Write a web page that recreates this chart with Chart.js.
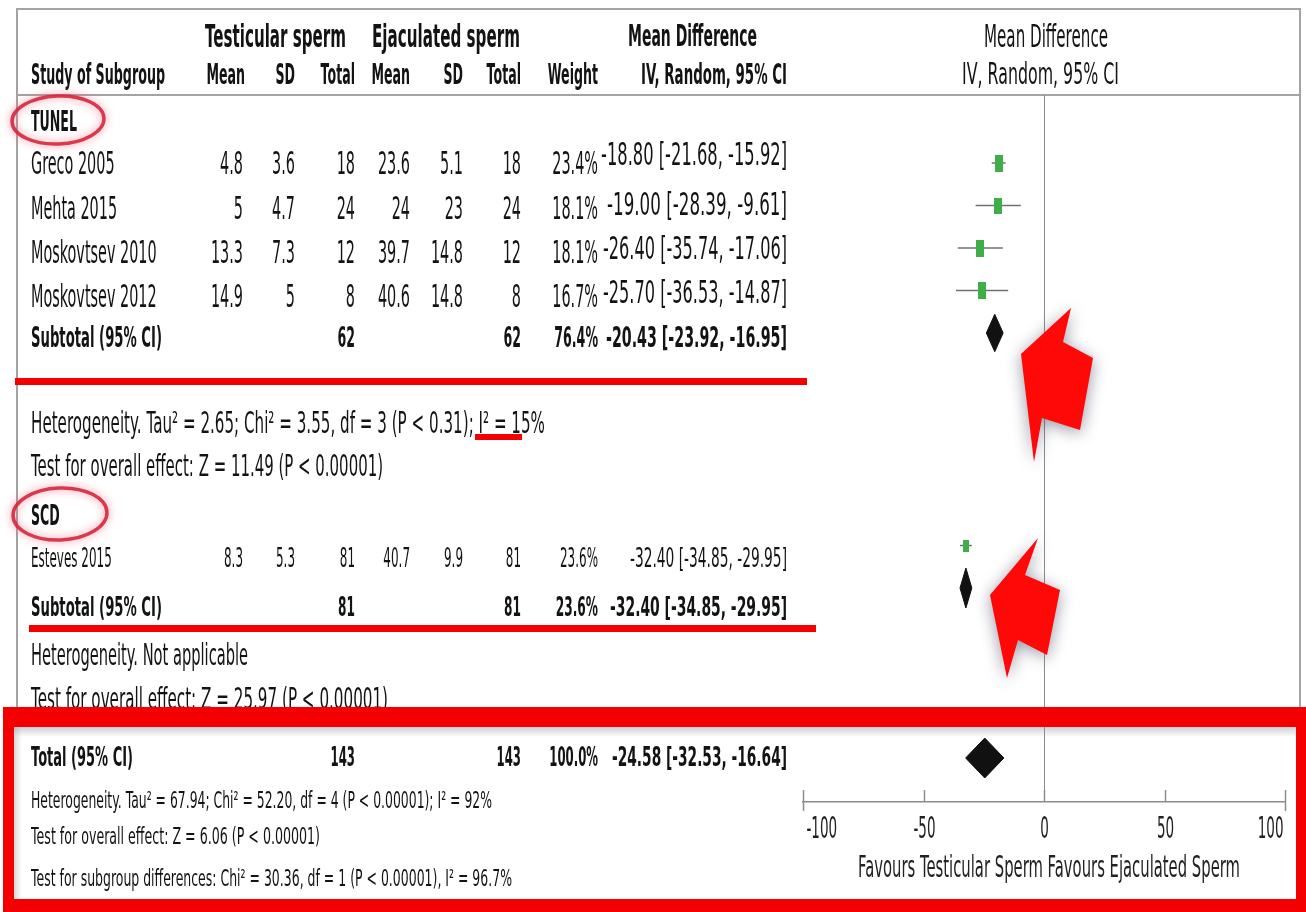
<!DOCTYPE html>
<html>
<head>
<meta charset="utf-8">
<title>Testicular vs ejaculated sperm – DNA fragmentation forest plot</title>
<script src="https://cdn.jsdelivr.net/npm/chart.js@4.4.1/dist/chart.umd.min.js"></script>
<style>
  html, body { margin: 0; padding: 0; background: #fff; }
  canvas { display: block; }
</style>
</head>
<body>
<canvas id="forest" width="1306" height="912"></canvas>
<script>
// ---------- study-level data ----------
const subgroupNames = ['TUNEL', 'SCD'];
const studyNames = ['Greco 2005', 'Mehta 2015', 'Moskovtsev 2010', 'Moskovtsev 2012', 'Esteves 2015'];
const testisMean = [4.8, 5, 13.3, 14.9, 8.3];
const testisSD = [3.6, 4.7, 7.3, 5, 5.3];
const testisTotal = [18, 24, 12, 8, 81];
const ejacMean = [23.6, 24, 39.7, 40.6, 40.7];
const ejacSD = [5.1, 23, 14.8, 14.8, 9.9];
const ejacTotal = [18, 24, 12, 8, 81];
const studyWeight = [23.4, 18.1, 18.1, 16.7, 23.6];
const studyMD = [-18.80, -19.00, -26.40, -25.70, -32.40];
const studyLow = [-21.68, -28.39, -35.74, -36.53, -34.85];
const studyHigh = [-15.92, -9.61, -17.06, -14.87, -29.95];

// ---------- pooled estimates: TUNEL subtotal, SCD subtotal, overall ----------
const pooledLabels = ['Subtotal (95% CI)', 'Subtotal (95% CI)', 'Total (95% CI)'];
const pooledTestisTotal = [62, 81, 143];
const pooledEjacTotal = [62, 81, 143];
const pooledWeight = [76.4, 23.6, 100.0];
const pooledMD = [-20.43, -32.40, -24.58];
const pooledLow = [-23.92, -34.85, -32.53];
const pooledHigh = [-16.95, -29.95, -16.64];

// ---------- statistics lines ----------
const subgroupHeterogeneity = [
  'Heterogeneity. Tau\u00B2 = 2.65; Chi\u00B2 = 3.55, df = 3 (P < 0.31); I\u00B2 = 15%',
  'Heterogeneity. Not applicable'
];
const subgroupEffect = [
  'Test for overall effect: Z = 11.49 (P < 0.00001)',
  'Test for overall effect: Z = 25.97 (P < 0.00001)'
];
const overallNotes = [
  'Heterogeneity. Tau\u00B2 = 67.94; Chi\u00B2 = 52.20, df = 4 (P < 0.00001); I\u00B2 = 92%',
  'Test for overall effect: Z = 6.06 (P < 0.00001)',
  'Test for subgroup differences: Chi\u00B2 = 30.36, df = 1 (P < 0.00001), I\u00B2 = 96.7%'
];

// ---------- axis ----------
const axisTicks = [-100, -50, 0, 50, 100];
const axisTitle = 'Favours Testicular Sperm Favours Ejaculated Sperm';

// ---------- layout ----------
const studyRow = [0, 1, 2, 3, 9];   // plot rows of the individual studies
const pooledRow = [4, 10, 14];      // plot rows of the pooled diamonds
const diamondHalf = [0.44, 0.47, 0.47];
const squareSize = [[8, 17], [8, 16], [8, 17], [8, 17], [6, 12]];
const FONT = '"DejaVu Sans", Verdana, sans-serif';
const SX = 0.45;                    // horizontal squeeze of the narrow table type
const INK = '#131313';

function squareImage(w, h) {
  const c = document.createElement('canvas');
  c.width = w; c.height = h;
  const g = c.getContext('2d');
  g.fillStyle = '#3fae49';
  g.fillRect(0, 0, w, h);
  return c;
}
const squareImgs = squareSize.map(s => squareImage(s[0], s[1]));

// text helper: y is the cap-height centre; o.w forces a width, else SX squeeze
function text(ctx, str, x, y, o) {
  ctx.save();
  ctx.font = (o.bold ? 'bold ' : '') + o.size + 'px ' + FONT;
  const nat = ctx.measureText(str).width;
  const sx = o.w ? o.w / nat : (o.sx || SX);
  const w = nat * sx;
  let left = x;
  if (o.align === 'right') left = x - w;
  else if (o.align === 'center') left = x - w / 2;
  ctx.translate(left, y + 0.36 * o.size);
  ctx.scale(sx, 1);
  ctx.fillStyle = o.color || INK;
  ctx.textBaseline = 'alphabetic';
  ctx.fillText(str, 0, 0);
  ctx.restore();
}

const COL = { tMean: 243, tSD: 295, tN: 355, eMean: 410, eSD: 463, eN: 521, wt: 598, ci: 787 };
const LEFT = 31;

function ciString(m, lo, hi) {
  return m.toFixed(2) + ' [' + lo.toFixed(2) + ', ' + hi.toFixed(2) + ']';
}

// ---------- table drawn beneath the plot ----------
const tablePlugin = {
  id: 'forestTable',
  beforeDraw(chart) {
    const ctx = chart.ctx;
    ctx.save();
    ctx.fillStyle = '#fff';
    ctx.fillRect(0, 0, chart.width, chart.height);

    // frame and header rule
    ctx.strokeStyle = '#a3a3a3';
    ctx.lineWidth = 2;
    ctx.beginPath();
    ctx.moveTo(17, 712); ctx.lineTo(17, 9); ctx.lineTo(1300, 9); ctx.lineTo(1300, 712);
    ctx.stroke();
    ctx.beginPath();
    ctx.moveTo(17, 95); ctx.lineTo(1300, 95);
    ctx.stroke();
    ctx.restore();

    // column headers
    text(ctx, 'Testicular sperm', 205, 35, { size: 32, bold: true, w: 141 });
    text(ctx, 'Ejaculated sperm', 372, 35, { size: 32, bold: true, w: 148 });
    text(ctx, 'Mean Difference', 628, 35, { size: 31, bold: true, w: 129 });
    text(ctx, 'Mean Difference', 984, 35, { size: 32, w: 124 });
    text(ctx, 'Study of Subgroup', LEFT, 74, { size: 28, bold: true, w: 134 });
    text(ctx, 'Mean', COL.tMean + 2, 74, { size: 28, bold: true, align: 'right' });
    text(ctx, 'SD', COL.tSD, 74, { size: 28, bold: true, align: 'right' });
    text(ctx, 'Total', COL.tN, 74, { size: 28, bold: true, align: 'right' });
    text(ctx, 'Mean', COL.eMean, 74, { size: 28, bold: true, align: 'right' });
    text(ctx, 'SD', COL.eSD, 74, { size: 28, bold: true, align: 'right' });
    text(ctx, 'Total', COL.eN, 74, { size: 28, bold: true, align: 'right' });
    text(ctx, 'Weight', COL.wt, 74, { size: 28, bold: true, align: 'right' });
    text(ctx, 'IV, Random, 95% CI', COL.ci, 74, { size: 28, bold: true, align: 'right', w: 146 });
    text(ctx, 'IV, Random, 95% CI', 962, 73, { size: 30, w: 157 });

    // subgroup headings
    const headY = [121, 515];
    subgroupNames.forEach((g, k) => text(ctx, g, LEFT, headY[k], { size: 28, bold: true }));

    // study rows
    const rowY = [162, 207, 251, 295, 558];
    const ciY = [153, 203, 247, 291, 558];
    const rowSize = [32, 32, 32, 32, 26];
    const ciW = [186, 180, 184, 184, 157];
    studyNames.forEach((name, i) => {
      const y = rowY[i], s = rowSize[i];
      const sx = s < 30 ? 0.46 : SX;
      text(ctx, name, LEFT, y, { size: s, sx });
      text(ctx, String(testisMean[i]), COL.tMean, y, { size: s, sx, align: 'right' });
      text(ctx, String(testisSD[i]), COL.tSD, y, { size: s, sx, align: 'right' });
      text(ctx, String(testisTotal[i]), COL.tN, y, { size: s, sx, align: 'right' });
      text(ctx, String(ejacMean[i]), COL.eMean, y, { size: s, sx, align: 'right' });
      text(ctx, String(ejacSD[i]), COL.eSD, y, { size: s, sx, align: 'right' });
      text(ctx, String(ejacTotal[i]), COL.eN, y, { size: s, sx, align: 'right' });
      text(ctx, studyWeight[i].toFixed(1) + '%', COL.wt, y, { size: s, sx, align: 'right' });
      text(ctx, ciString(studyMD[i], studyLow[i], studyHigh[i]), COL.ci, ciY[i], { size: s, align: 'right', w: ciW[i] });
    });

    // pooled rows
    const poolY = [337, 606, 757];
    const poolSize = [28, 27, 26];
    const labelW = [131, 131, 102];
    const poolCiW = [181, 177, 175];
    pooledLabels.forEach((lab, k) => {
      const y = poolY[k], s = poolSize[k];
      text(ctx, lab, LEFT, y, { size: s, bold: true, w: labelW[k] });
      text(ctx, String(pooledTestisTotal[k]), COL.tN, y, { size: s, bold: true, align: 'right' });
      text(ctx, String(pooledEjacTotal[k]), COL.eN, y, { size: s, bold: true, align: 'right' });
      text(ctx, pooledWeight[k].toFixed(1) + '%', COL.wt, y, { size: s, bold: true, align: 'right' });
      text(ctx, ciString(pooledMD[k], pooledLow[k], pooledHigh[k]), COL.ci, y, { size: s, bold: true, align: 'right', w: poolCiW[k] });
    });

    // subgroup statistics
    const hetY = [422, 654], effY = [465, 698];
    const hetW = [514, 217], effW = [352, 357];
    subgroupHeterogeneity.forEach((t, k) => text(ctx, t, LEFT, hetY[k], { size: 30, w: hetW[k] }));
    subgroupEffect.forEach((t, k) => text(ctx, t, LEFT, effY[k], { size: 30, w: effW[k] }));

    // overall statistics
    const noteY = [800, 836, 878], noteW = [461, 289, 481];
    overallNotes.forEach((t, k) => text(ctx, t, LEFT, noteY[k], { size: 23, w: noteW[k] }));
  },
  afterDraw(chart) {
    const ctx = chart.ctx;
    const xs = chart.scales.x;
    const base = chart.chartArea.bottom;

    // tick marks rising from the axis line, with labels below
    ctx.save();
    ctx.strokeStyle = '#8c8c8c';
    ctx.lineWidth = 1.5;
    axisTicks.forEach((v, i) => {
      const px = Math.round(xs.getPixelForValue(v)) + 0.5;
      const end = i === 0 || i === axisTicks.length - 1;
      ctx.beginPath();
      ctx.moveTo(px, base - 12);
      ctx.lineTo(px, end ? base + 9 : base);
      ctx.stroke();
      let align = 'center', lx = px;
      if (i === 0) { align = 'left'; lx = px + 3; }
      if (i === axisTicks.length - 1) { align = 'right'; lx = px - 2; }
      text(ctx, String(v), lx, base + 25, { size: 30, align, color: '#222' });
    });
    ctx.restore();
    text(ctx, axisTitle, 858, 866, { size: 30, w: 382, color: '#222' });

    drawHighlights(ctx);
  }
};

// ---------- red highlight marks ----------
function drawHighlights(ctx) {
  ctx.save();
  ctx.fillStyle = '#f40000';
  ctx.fillRect(15, 378, 792, 7);
  ctx.fillRect(475, 434, 47, 6);
  ctx.fillRect(29, 625, 787, 7);

  // frame around the overall result
  ctx.fillRect(3, 707, 1303, 20);
  ctx.fillRect(3, 899, 1303, 13);
  ctx.fillRect(3, 707, 11, 205);
  ctx.fillRect(1296, 707, 10, 205);
  const g1 = ctx.createLinearGradient(0, 727, 0, 737);
  g1.addColorStop(0, 'rgba(150,150,160,0.45)');
  g1.addColorStop(1, 'rgba(150,150,160,0)');
  ctx.fillStyle = g1;
  ctx.fillRect(14, 727, 1282, 10);
  const g2 = ctx.createLinearGradient(14, 0, 22, 0);
  g2.addColorStop(0, 'rgba(150,150,160,0.35)');
  g2.addColorStop(1, 'rgba(150,150,160,0)');
  ctx.fillStyle = g2;
  ctx.fillRect(14, 727, 8, 172);

  // rings around the subgroup names
  ctx.shadowColor = 'rgba(240,90,115,0.8)';
  ctx.shadowBlur = 8;
  ctx.strokeStyle = 'rgba(214,38,60,0.9)';
  ctx.lineWidth = 3.5;
  ctx.beginPath(); ctx.ellipse(58, 120, 46, 24, -0.04, 0, Math.PI * 2); ctx.stroke();
  ctx.beginPath(); ctx.ellipse(60, 514, 47, 26, -0.04, 0, Math.PI * 2); ctx.stroke();

  // arrows pointing at the pooled diamonds
  const arrows = [
    [[1071, 308], [1063, 342], [1093, 358], [1080, 430], [1042, 418], [1034, 462], [1021, 354]],
    [[1038, 538], [1025, 575], [1060, 590], [1047, 655], [1018, 640], [1007, 678], [990, 595]]
  ];
  ctx.shadowColor = 'rgba(80,80,105,0.6)';
  ctx.shadowBlur = 16;
  ctx.shadowOffsetY = 3;
  ctx.fillStyle = '#ff0808';
  arrows.forEach(pts => {
    ctx.beginPath();
    pts.forEach((p, i) => (i ? ctx.lineTo(p[0], p[1]) : ctx.moveTo(p[0], p[1])));
    ctx.closePath();
    ctx.fill();
  });
  ctx.restore();
}

// ---------- datasets ----------
const whiskerSets = studyNames.map((name, i) => ({
  type: 'line',
  label: name + ' 95% CI',
  data: [{ x: studyLow[i], y: studyRow[i] }, { x: studyHigh[i], y: studyRow[i] }],
  borderColor: '#707070',
  borderWidth: 1.5,
  pointRadius: 0,
  fill: false,
  order: 2
}));

const squareSet = {
  type: 'scatter',
  label: 'Study mean difference',
  data: studyMD.map((v, i) => ({ x: v, y: studyRow[i] })),
  pointStyle: ctx => squareImgs[ctx.dataIndex],
  pointRadius: 4,
  order: 0
};

const diamondSets = [];
pooledMD.forEach((m, k) => {
  const r = pooledRow[k], h = diamondHalf[k];
  diamondSets.push({
    type: 'line',
    label: pooledLabels[k] + ' upper',
    data: [{ x: pooledLow[k], y: r }, { x: m, y: r - h }, { x: pooledHigh[k], y: r }],
    borderColor: '#111', borderWidth: 1, backgroundColor: '#111',
    pointRadius: 0, tension: 0, fill: '+1', order: 1
  });
  diamondSets.push({
    type: 'line',
    label: pooledLabels[k] + ' lower',
    data: [{ x: pooledLow[k], y: r }, { x: m, y: r + h }, { x: pooledHigh[k], y: r }],
    borderColor: '#111', borderWidth: 1, backgroundColor: '#111',
    pointRadius: 0, tension: 0, fill: false, order: 1
  });
});

new Chart(document.getElementById('forest'), {
  type: 'scatter',
  data: { datasets: [...whiskerSets, ...diamondSets, squareSet] },
  plugins: [tablePlugin],
  options: {
    responsive: false,
    animation: false,
    events: [],
    layout: { autoPadding: false, padding: { left: 803, right: 21, top: 95, bottom: 110 } },
    plugins: { legend: { display: false }, tooltip: { enabled: false }, filler: { propagate: false } },
    scales: {
      x: {
        type: 'linear',
        min: -100, max: 100,
        afterBuildTicks: s => { s.ticks = axisTicks.map(v => ({ value: v })); },
        ticks: { display: false },
        grid: {
          drawTicks: false,
          lineWidth: 1,
          color: c => (c.tick && c.tick.value === 0 ? '#8a8a8a' : 'rgba(0,0,0,0)')
        },
        border: { display: true, color: '#8c8c8c', width: 1.5 },
        title: { display: false }
      },
      y: {
        type: 'linear',
        reverse: true,
        min: -1.6, max: 15.035,
        display: false
      }
    }
  }
});
</script>
</body>
</html>
